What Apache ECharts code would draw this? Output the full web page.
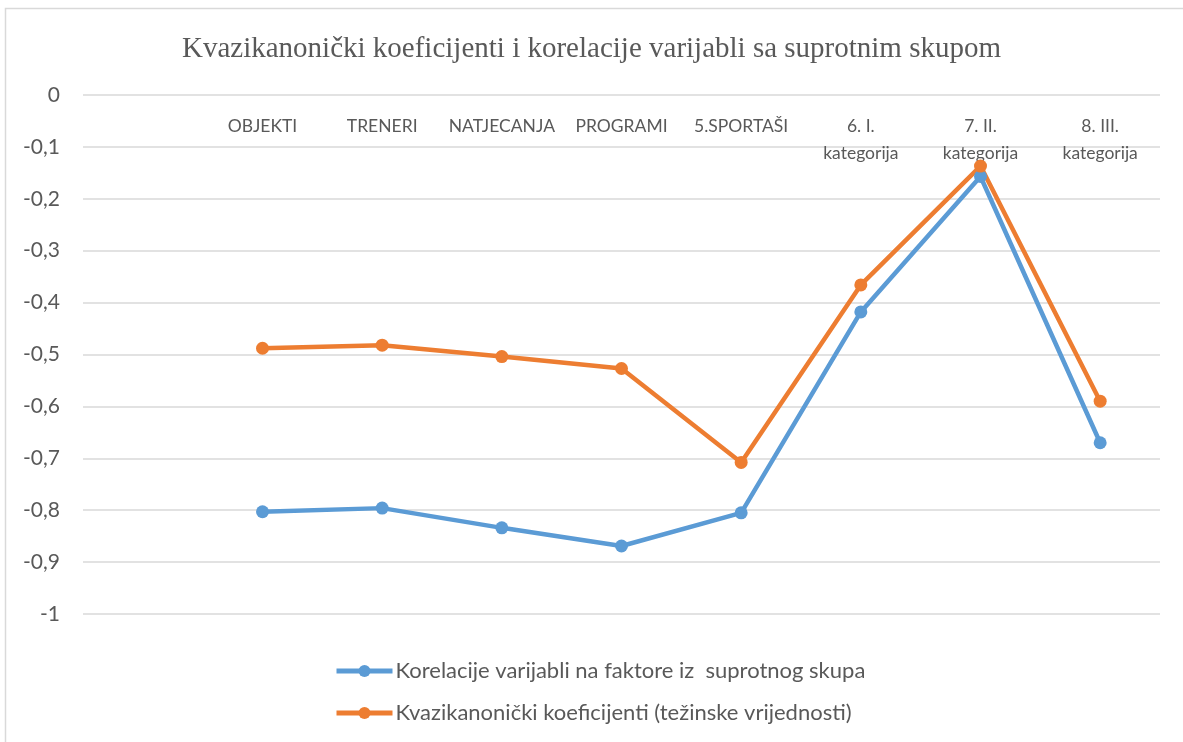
<!DOCTYPE html>
<html lang="hr">
<head>
    <meta charset="UTF-8">
    <title></title>
    <script src="https://cdn.jsdelivr.net/npm/echarts@6/dist/echarts.min.js"></script>
    <style>
        body { margin: 0; background: #fff; }
    </style>
</head>
<body>
<div id="box1" style="width: 1183px;height: 742px"></div>
<script>
    // prva kategorija je prazna (kao u Excelu)
    var kategorije = ['', 'OBJEKTI', 'TRENERI', 'NATJECANJA', 'PROGRAMI', '5.SPORTAŠI',
        '6. I.\nkategorija', '7. II.\nkategorija', '8. III.\nkategorija'];
    var korelacije = [null, -0.803, -0.796, -0.834, -0.869, -0.805, -0.418, -0.157, -0.670];
    var koeficijenti = [null, -0.488, -0.482, -0.504, -0.527, -0.708, -0.366, -0.137, -0.590];
    var nazivi = ['Korelacije varijabli na faktore iz  suprotnog skupa',
        'Kvazikanonički koeficijenti (težinske vrijednosti)'];

    var mychart = echarts.init(document.getElementById("box1"));

    var option = {
        animation: false,
        title: {
            text: 'Kvazikanonički koeficijenti i korelacije varijabli sa suprotnim skupom',
            left: 'center',
            top: 30,
            textStyle: {
                fontFamily: 'Liberation Serif',
                fontWeight: 'normal',
                fontSize: 29,
                color: '#595959'
            }
        },
        graphic: [{
            type: 'rect',
            shape: {x: 5.5, y: 8.5, width: 1200, height: 760},
            style: {fill: 'none', stroke: '#d9d9d9', lineWidth: 1.5}
        }],
        legend: {
            orient: 'vertical',
            left: 329,
            top: 655,
            itemGap: 20,
            itemWidth: 56,
            itemHeight: 15,
            lineStyle: {width: 5},
            textStyle: {fontFamily: 'Lato', fontSize: 22, color: '#595959', padding: [0, 0, 0, -2]},
            data: nazivi
        },
        grid: {left: 83, right: 23, top: 95, bottom: 128},
        xAxis: {
            type: 'category',
            position: 'top',
            data: kategorije,
            boundaryGap: true,
            axisLine: {show: false},
            axisTick: {show: false},
            axisLabel: {
                inside: true,
                interval: 0,
                margin: 18,
                lineHeight: 27,
                fontFamily: 'Lato',
                fontSize: 17.5,
                color: '#595959',
                verticalAlign: 'top'
            }
        },
        yAxis: {
            type: 'value',
            min: -1,
            max: 0,
            interval: 0.1,
            axisLine: {show: false},
            axisTick: {show: false},
            splitLine: {lineStyle: {color: '#d9d9d9', width: 1.5}},
            axisLabel: {
                margin: 23,
                fontFamily: 'Lato',
                fontSize: 21,
                color: '#595959',
                formatter: function (v) {
                    return String(+v.toFixed(1)).replace('.', ',');
                }
            }
        },
        series: [{
            name: nazivi[0],
            type: 'line',
            data: korelacije,
            symbol: 'circle',
            symbolSize: 13,
            lineStyle: {color: '#5b9bd5', width: 4.5},
            itemStyle: {color: '#5b9bd5'}
        }, {
            name: nazivi[1],
            type: 'line',
            data: koeficijenti,
            symbol: 'circle',
            symbolSize: 13,
            lineStyle: {color: '#ed7d31', width: 4.5},
            itemStyle: {color: '#ed7d31'}
        }]
    };
    mychart.setOption(option);
</script>
</body>
</html>
